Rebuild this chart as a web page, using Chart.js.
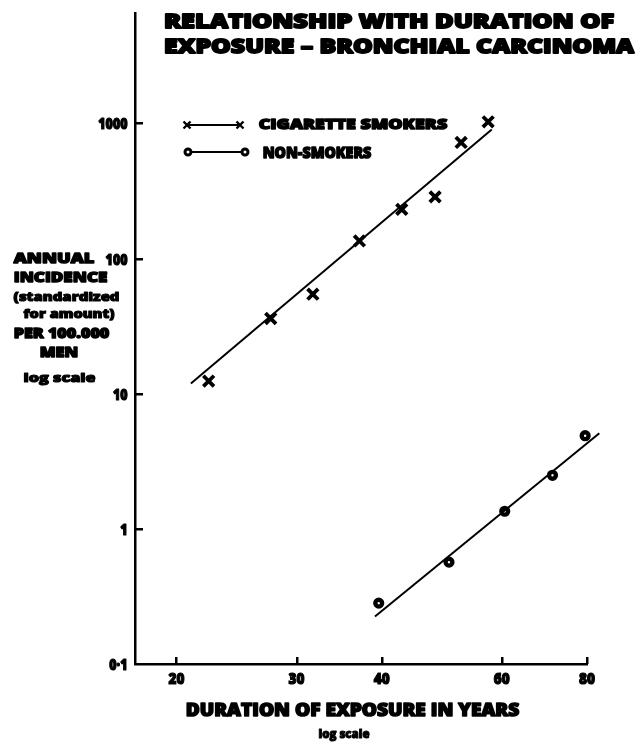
<!DOCTYPE html>
<html>
<head>
<meta charset="utf-8">
<script src="https://cdn.jsdelivr.net/npm/chart.js@4.4.1/dist/chart.umd.min.js"></script>
<style>
  html, body { margin: 0; padding: 0; background: #fff; }
  canvas { display: block; }
</style>
</head>
<body>
<canvas id="chart" width="642" height="744"></canvas>
<script>
// Tick values on the two logarithmic axes
const xTicks = [20, 30, 40, 60, 80];
const yTicks = [0.1, 1, 10, 100, 1000];

// Cigarette smokers: years of exposure vs annual incidence per 100,000 men
const smokerYears = [22.3, 27.5, 31.7, 37.1, 42.8, 47.9, 52.3, 57.3];
const smokerRate  = [12.4, 36.0, 54.5, 135, 231, 286, 723, 1028];
// Fitted line for smokers (end points)
const smokerFitYears = [21.0, 58.0];
const smokerFitRate  = [11.9, 903];

// Non-smokers
const nonSmokerYears = [39.6, 50.2, 60.6, 71.2, 79.5];
const nonSmokerRate  = [0.282, 0.567, 1.35, 2.49, 4.89];
// Fitted line for non-smokers (end points)
const nonSmokerFitYears = [39.1, 83.4];
const nonSmokerFitRate  = [0.225, 5.09];

const FONT = '"Open Sans", "DejaVu Sans", sans-serif';

const pts = (xs, ys) => xs.map((x, i) => ({ x, y: ys[i] }));

// Heavy lettering: filled and outlined, squeezed or stretched to a given width
function heavyText(ctx, text, left, right, baseline, size, weight, outline) {
  ctx.save();
  ctx.font = `${weight} ${size}px ${FONT}`;
  ctx.textAlign = 'left';
  ctx.textBaseline = 'alphabetic';
  const w = ctx.measureText(text).width;
  const inner = (right - left) - outline;
  ctx.translate(left + outline / 2, baseline);
  ctx.scale(inner / w, 1);
  ctx.fillStyle = '#000';
  ctx.strokeStyle = '#000';
  ctx.lineJoin = 'round';
  ctx.lineWidth = outline;
  ctx.fillText(text, 0, 0);
  if (outline > 0) ctx.strokeText(text, 0, 0);
  ctx.restore();
}

// Heavy lettering with a fixed horizontal squeeze, placed by anchor
function heavyLabel(ctx, text, x, baseline, size, squeeze, align, outline) {
  ctx.save();
  ctx.font = `800 ${size}px ${FONT}`;
  ctx.textBaseline = 'alphabetic';
  ctx.textAlign = align;
  ctx.translate(x, baseline);
  ctx.scale(squeeze, 1);
  ctx.fillStyle = '#000';
  ctx.strokeStyle = '#000';
  ctx.lineJoin = 'round';
  ctx.lineWidth = outline;
  const dx = align === 'right' ? -outline / 2 : 0;
  ctx.fillText(text, dx, 0);
  ctx.strokeText(text, dx, 0);
  ctx.restore();
}

const fmtY = v => (v < 1 ? String(v).replace('.', '\u00b7') : String(v));

// Short inward tick marks on both axes
function drawTickMarks(ctx, chart) {
  const xs = chart.scales.x, ys = chart.scales.y;
  const left = chart.chartArea.left, bottom = chart.chartArea.bottom;
  ctx.save();
  ctx.fillStyle = '#000';
  yTicks.slice(1).forEach(v => {
    const py = Math.round(ys.getPixelForValue(v));
    ctx.fillRect(left, py - 1, 8, 2.5);
  });
  xTicks.forEach(v => {
    const px = Math.round(xs.getPixelForValue(v));
    ctx.fillRect(px - 1, bottom - 7, 2.5, 7);
  });
  ctx.restore();
}

const decorations = {
  id: 'decorations',
  afterDraw(chart) {
    const ctx = chart.ctx;
    const xs = chart.scales.x, ys = chart.scales.y;
    const bottom = chart.chartArea.bottom;

    drawTickMarks(ctx, chart);

    // tick labels
    yTicks.forEach(v => {
      const py = ys.getPixelForValue(v);
      heavyLabel(ctx, fmtY(v), 128, py + 6, 16, 0.78, 'right', 1.2);
    });
    xTicks.forEach(v => {
      const px = xs.getPixelForValue(v);
      heavyLabel(ctx, String(v), px, bottom + 20, 16, 0.85, 'center', 1.2);
    });

    // title
    heavyText(ctx, 'RELATIONSHIP WITH DURATION OF', 163, 615, 28, 20, 800, 1.8);
    heavyText(ctx, 'EXPOSURE \u2013 BRONCHIAL CARCINOMA', 163, 635, 53, 20, 800, 1.8);

    // legend
    ctx.save();
    ctx.strokeStyle = '#000';
    ctx.lineWidth = 1.8;
    ctx.beginPath();
    ctx.moveTo(187, 125); ctx.lineTo(240, 125);
    ctx.stroke();
    ctx.lineWidth = 2.4;
    [187, 240].forEach(cx => {
      ctx.beginPath();
      ctx.moveTo(cx - 3.5, 121.5); ctx.lineTo(cx + 3.5, 128.5);
      ctx.moveTo(cx - 3.5, 128.5); ctx.lineTo(cx + 3.5, 121.5);
      ctx.stroke();
    });
    ctx.lineWidth = 1.8;
    ctx.beginPath();
    ctx.moveTo(188, 152); ctx.lineTo(245, 152);
    ctx.stroke();
    ctx.lineWidth = 3;
    ctx.fillStyle = '#fff';
    [188, 245].forEach(cx => {
      ctx.beginPath();
      ctx.arc(cx, 152, 3, 0, Math.PI * 2);
      ctx.fill();
      ctx.stroke();
    });
    ctx.restore();
    heavyText(ctx, 'CIGARETTE SMOKERS', 258, 448, 129, 14, 800, 1.4);
    heavyText(ctx, 'NON-SMOKERS', 262, 372, 158, 15, 800, 1.4);

    // y axis caption
    heavyText(ctx, 'ANNUAL', 13, 95, 263, 14, 800, 1.4);
    heavyText(ctx, 'INCIDENCE', 13, 108, 282, 14, 800, 1.4);
    heavyText(ctx, '(standardized', 13, 120, 301, 13, 800, 1.1);
    heavyText(ctx, 'for amount)', 23, 115, 318, 13, 800, 1.1);
    heavyText(ctx, 'PER 100.000', 13, 110, 338, 14, 800, 1.4);
    heavyText(ctx, 'MEN', 39, 79, 357, 14, 800, 1.4);
    heavyText(ctx, 'log scale', 23, 96, 382, 13, 800, 1.1);

    // x axis caption
    heavyText(ctx, 'DURATION OF EXPOSURE IN YEARS', 185, 520, 716, 17, 800, 1.5);
    heavyText(ctx, 'log scale', 318, 370, 738, 12, 800, 1.0);
  }
};

new Chart(document.getElementById('chart'), {
  type: 'scatter',
  data: {
    datasets: [
      {
        label: 'Cigarette smokers (fit)',
        data: pts(smokerFitYears, smokerFitRate),
        showLine: true, borderColor: '#000', borderWidth: 2,
        pointRadius: 0, clip: false
      },
      {
        label: 'Cigarette smokers',
        data: pts(smokerYears, smokerRate),
        showLine: false, pointStyle: 'crossRot', pointRadius: 7.5,
        borderColor: '#000', pointBorderWidth: 3.8, clip: false
      },
      {
        label: 'Non-smokers (fit)',
        data: pts(nonSmokerFitYears, nonSmokerFitRate),
        showLine: true, borderColor: '#000', borderWidth: 2,
        pointRadius: 0, clip: false
      },
      {
        label: 'Non-smokers',
        data: pts(nonSmokerYears, nonSmokerRate),
        showLine: false, pointStyle: 'circle', pointRadius: 3.4,
        borderColor: '#000', backgroundColor: '#fff', pointBorderWidth: 4.4,
        clip: false
      }
    ]
  },
  options: {
    responsive: false,
    animation: false,
    events: [],
    layout: { padding: { left: 0, top: 13, right: 55, bottom: 0 } },
    plugins: { legend: { display: false }, tooltip: { enabled: false }, title: { display: false } },
    scales: {
      x: {
        type: 'logarithmic',
        min: 17.39, max: 80,
        grid: { display: false },
        border: { display: true, color: '#000', width: 2.5 },
        afterBuildTicks: s => { s.ticks = xTicks.map(v => ({ value: v })); },
        afterFit: s => { s.height = 80; },
        ticks: { display: false }
      },
      y: {
        type: 'logarithmic',
        min: 0.1, max: 6560,
        grid: { display: false },
        border: { display: true, color: '#000', width: 2.5 },
        afterBuildTicks: s => { s.ticks = yTicks.map(v => ({ value: v })); },
        afterFit: s => { s.width = 135; },
        ticks: { display: false }
      }
    }
  },
  plugins: [decorations]
});
</script>
</body>
</html>
